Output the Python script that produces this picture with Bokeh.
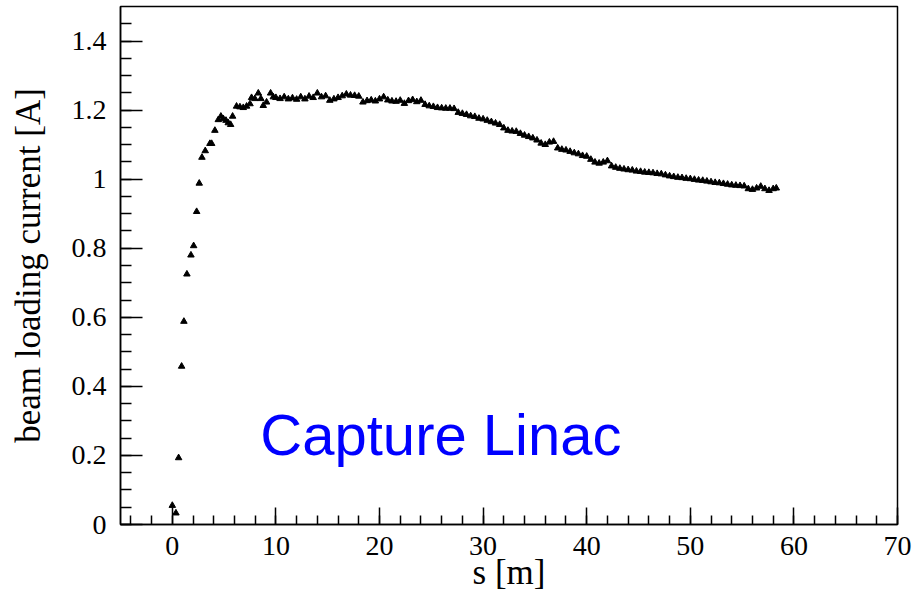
from bokeh.plotting import figure
from bokeh.models import Range1d, SingleIntervalTicker, CustomJSTickFormatter, Label
from bokeh.embed import file_html
from bokeh.resources import INLINE

# ---- data ----
s_early = [0.0, 0.35, 0.61, 0.90, 1.12, 1.41, 1.80, 2.06, 2.35, 2.60, 2.86, 3.18, 3.63, 3.80,
           4.11, 4.44, 4.69, 4.92, 5.18, 5.40, 5.63, 5.82, 6.20, 6.53, 6.85, 7.17, 7.50, 7.65,
           7.97, 8.30, 8.55, 8.78, 9.10, 9.49, 9.75]
i_early = [0.055, 0.033, 0.193, 0.458, 0.588, 0.725, 0.780, 0.807, 0.906, 0.988, 1.063, 1.082, 1.103, 1.103,
           1.141, 1.172, 1.182, 1.175, 1.170, 1.163, 1.158, 1.182, 1.211, 1.209, 1.207, 1.211, 1.218, 1.236,
           1.233, 1.249, 1.233, 1.213, 1.223, 1.249, 1.238]

s_main = [10.0, 10.4, 10.8, 11.2, 11.6, 12.0, 12.4, 12.8, 13.2, 13.6, 14.0, 14.4, 14.8, 15.2, 15.6,
          16.0, 16.4, 16.8, 17.2, 17.6, 18.0, 18.4, 18.8, 19.2, 19.6, 20.0, 20.4, 20.8, 21.2, 21.6,
          22.0, 22.4, 22.8, 23.2, 23.6, 24.0, 24.4, 24.8, 25.2, 25.6, 26.0, 26.4, 26.8, 27.2, 27.6,
          28.0, 28.4, 28.8, 29.2, 29.6, 30.0, 30.4, 30.8, 31.2, 31.6, 32.0, 32.4, 32.8, 33.2, 33.6,
          34.0, 34.4, 34.8, 35.2, 35.6, 36.0, 36.4, 36.8, 37.2, 37.6, 38.0, 38.4, 38.8, 39.2, 39.6,
          40.0, 40.4, 40.8, 41.2, 41.6, 42.0, 42.4, 42.8, 43.2, 43.6, 44.0, 44.4, 44.8, 45.2, 45.6,
          46.0, 46.4, 46.8, 47.2, 47.6, 48.0, 48.4, 48.8, 49.2, 49.6, 50.0, 50.4, 50.8, 51.2, 51.6,
          52.0, 52.4, 52.8, 53.2, 53.6, 54.0, 54.4, 54.8, 55.2, 55.6, 56.0, 56.4, 56.8, 57.2, 57.6,
          58.0, 58.3]
i_main = [1.236, 1.233, 1.238, 1.232, 1.235, 1.231, 1.238, 1.232, 1.240, 1.236, 1.249, 1.238, 1.241, 1.228, 1.232,
          1.236, 1.241, 1.246, 1.243, 1.242, 1.240, 1.223, 1.227, 1.229, 1.226, 1.232, 1.238, 1.229, 1.226, 1.225,
          1.228, 1.219, 1.227, 1.230, 1.224, 1.228, 1.216, 1.212, 1.210, 1.207, 1.206, 1.205, 1.205, 1.204, 1.193,
          1.190, 1.187, 1.183, 1.181, 1.176, 1.174, 1.170, 1.166, 1.162, 1.158, 1.148, 1.141, 1.139, 1.138, 1.132,
          1.127, 1.123, 1.119, 1.113, 1.104, 1.100, 1.107, 1.109, 1.090, 1.086, 1.084, 1.080, 1.076, 1.073, 1.068,
          1.066, 1.057, 1.049, 1.046, 1.049, 1.053, 1.038, 1.034, 1.031, 1.029, 1.027, 1.026, 1.023, 1.022, 1.020,
          1.019, 1.018, 1.016, 1.015, 1.012, 1.009, 1.007, 1.005, 1.004, 1.002, 1.001, 0.999, 0.997, 0.996, 0.994,
          0.992, 0.990, 0.989, 0.987, 0.985, 0.983, 0.982, 0.981, 0.980, 0.972, 0.970, 0.974, 0.979, 0.972, 0.967,
          0.972, 0.974]

x_title = "s [m]"
y_title = "beam loading current [A]"
annotation = "Capture Linac"

SERIF = "Liberation Serif"

p = figure(width=915, height=603, output_backend="svg", toolbar_location=None,
           x_range=Range1d(-5, 70), y_range=Range1d(0, 1.5),
           min_border_left=120, min_border_right=18, min_border_top=6, min_border_bottom=79,
           background_fill_color="white", border_fill_color="white")

p.grid.visible = False
p.outline_line_color = "black"
p.outline_line_width = 1.5

s_all = s_early + s_main
i_all = i_early + i_main
p.scatter(s_all, i_all, marker="triangle", size=6.5, color="black")

# x axis
xa = p.xaxis[0]
xa.ticker = SingleIntervalTicker(interval=10, num_minor_ticks=5)
xa.major_tick_in = 17
xa.major_tick_out = 0
xa.minor_tick_in = 9
xa.minor_tick_out = 0
xa.major_label_standoff = 12
xa.major_label_text_font = SERIF
xa.major_label_text_font_size = "28px"
xa.major_label_text_color = "black"
xa.axis_label = x_title
xa.axis_label_text_font = SERIF
xa.axis_label_text_font_size = "35px"
xa.axis_label_text_font_style = "normal"
xa.axis_label_text_color = "black"
xa.axis_label_standoff = -5
xa.axis_line_width = 1.5
xa.major_tick_line_width = 1.5
xa.minor_tick_line_width = 1.5

# y axis
ya = p.yaxis[0]
ya.ticker = SingleIntervalTicker(interval=0.2, num_minor_ticks=4)
ya.formatter = CustomJSTickFormatter(code="return Number(tick.toFixed(1)).toString();")
ya.major_tick_in = 22
ya.major_tick_out = 0
ya.minor_tick_in = 11
ya.minor_tick_out = 0
ya.major_label_standoff = 14
ya.major_label_text_font = SERIF
ya.major_label_text_font_size = "28px"
ya.major_label_text_color = "black"
ya.axis_label = y_title
ya.axis_label_text_font = SERIF
ya.axis_label_text_font_size = "35px"
ya.axis_label_text_font_style = "normal"
ya.axis_label_text_color = "black"
ya.axis_label_standoff = 21
ya.axis_line_width = 1.5
ya.major_tick_line_width = 1.5
ya.minor_tick_line_width = 1.5

p.add_layout(Label(x=8.5, y=0.261, text=annotation, text_color="#0000ff",
                   text_font="Liberation Sans", text_font_size="58px",
                   text_baseline="alphabetic", text_align="left"))

open("out.html", "w").write(file_html(p, INLINE))
